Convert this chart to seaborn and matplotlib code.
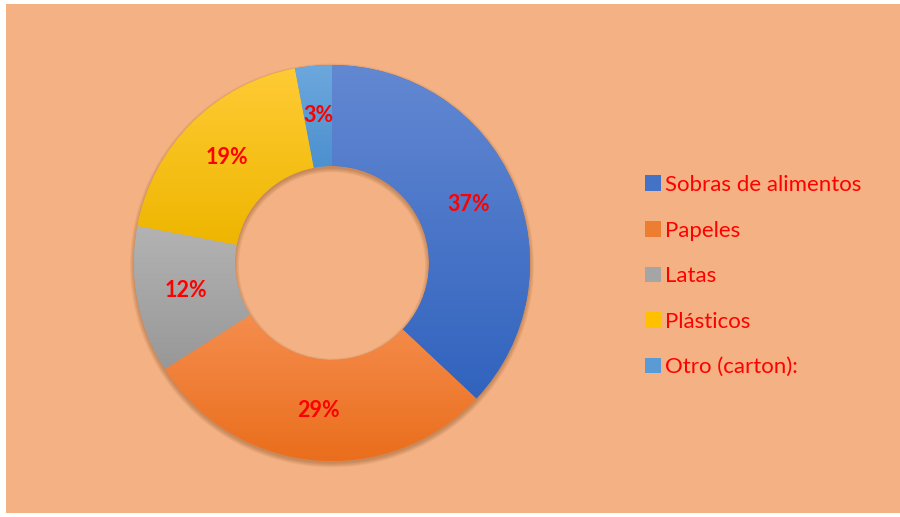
import matplotlib
matplotlib.use("Agg")
import numpy as np
import matplotlib.pyplot as plt
import seaborn as sns
from matplotlib.patches import Rectangle, Patch, Wedge
from matplotlib.colors import LinearSegmentedColormap

# datos del grafico
categorias = ["Sobras de alimentos", "Papeles", "Latas", "Plásticos", "Otro (carton):"]
porcentajes = [37, 29, 12, 19, 3]
colores = ["#4472C4", "#ED7D31", "#A5A5A5", "#FFC000", "#5B9BD5"]
# degradado de cada porcion (arriba claro, abajo oscuro)
claros = ["#6388D2", "#F58D4E", "#B3B3B3", "#FFCB35", "#6CA8DD"]
oscuros = ["#3163BE", "#EA6E1C", "#989898", "#EEB600", "#4C90CF"]
fondo = "#F4B183"

sns.set_theme(style="white")
plt.rcParams['font.family'] = ['Lato', 'DejaVu Sans']

fig = plt.figure(figsize=(9, 5.17), dpi=100)
fig.patch.set_facecolor("white")
fig.patches.append(Rectangle((6 / 900, 4 / 517), 894 / 900, 509 / 517,
                             transform=fig.transFigure, facecolor=fondo,
                             edgecolor="none", zorder=0))

# anillo: centro (332, 263) px, radio 198 px
ax = fig.add_axes([134 / 900, (517 - 461) / 517, 396 / 900, 396 / 517])
ax.set_zorder(2)
ancho = 0.51

# sombra suave debajo del anillo
for k in range(6):
    ax.add_patch(Wedge((0, -0.012), 1.0 + 0.004 * k, 0, 360, width=ancho + 0.008 * k,
                       facecolor="#5a2a00", edgecolor="none", alpha=0.05,
                       zorder=0, clip_on=False))

wedges, texts, autotexts = ax.pie(
    porcentajes, colors=colores, startangle=90, counterclock=False,
    autopct="%1.0f%%", pctdistance=0.75,
    wedgeprops=dict(width=ancho, edgecolor="none"),
    textprops=dict(color="red", fontsize=15.5, fontweight="bold"),
)
grad = np.linspace(0, 1, 256).reshape(-1, 1)
for w, c1, c2 in zip(wedges, claros, oscuros):
    w.set_zorder(1)
    ext = w.get_path().get_extents()
    cmap = LinearSegmentedColormap.from_list("g", [c2, c1])
    im = ax.imshow(grad, cmap=cmap, origin="lower", aspect="auto",
                   extent=(ext.x0, ext.x1, ext.y0, ext.y1), zorder=1.5)
    im.set_clip_path(w)
for t in autotexts:
    t.set_zorder(3)

ax.set_xlim(-1, 1)
ax.set_ylim(-1, 1)
ax.set_aspect("equal")
ax.axis("off")

handles = [Patch(facecolor=c, edgecolor="none") for c in colores]
leg = fig.legend(handles, categorias, loc="upper left",
                 bbox_to_anchor=(625 / 900, 1 - 155 / 517), frameon=False,
                 fontsize=16, labelcolor="red", handlelength=0.7, handleheight=0.7,
                 handletextpad=0.2, labelspacing=1.15)
leg.set_zorder(3)

fig.savefig("out.png", dpi=100)
